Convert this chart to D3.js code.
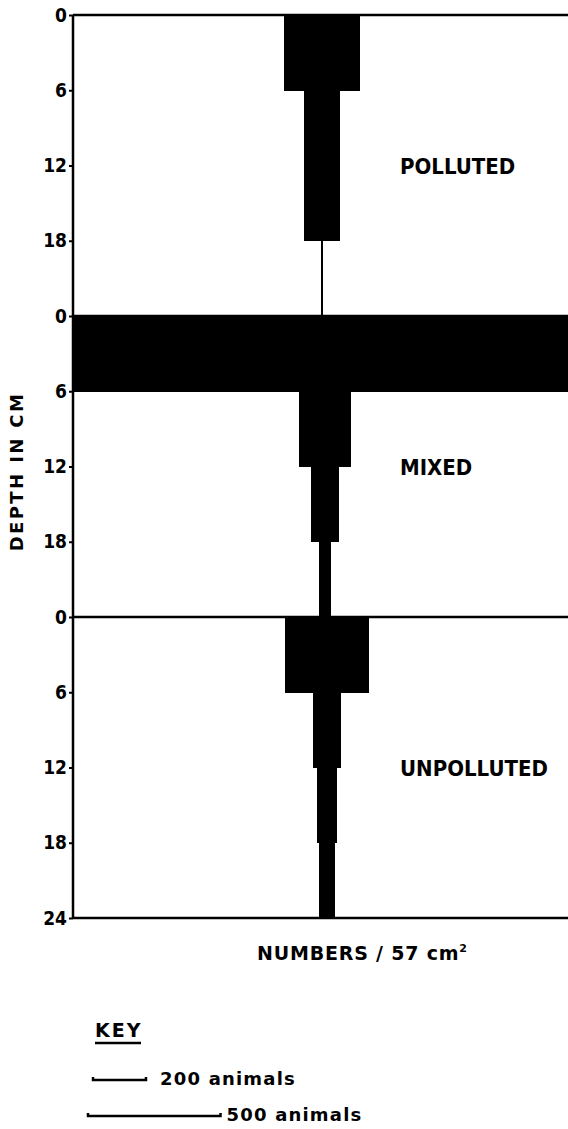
<!DOCTYPE html>
<html lang="en">
<head>
  <meta charset="UTF-8">
  <title>Numbers by depth</title>
  <script src="https://d3js.org/d3.v7.min.js"></script>
  <style>
    body { margin: 0; background: #fff; }
    svg { display: block; }
    text { font-family: "DejaVu Sans", sans-serif; font-weight: bold; fill: #000; }
    .cond { font-family: "DejaVu Sans Condensed", "DejaVu Sans", sans-serif; font-stretch: condensed; }
  </style>
</head>
<body>
  <div id="chart"></div>

  <script>
    // depth bands (cm) inside each core
    const bandStart = [0, 6, 12, 18];
    const bandSize = 6;
    const panels = ["POLLUTED", "MIXED", "UNPOLLUTED"];
    // numbers / 57 cm2 per depth band
    const polluted = [290, 135, 138, 5];
    const mixed = [2000, 196, 106, 42];
    const unpolluted = [317, 102, 79, 64];
    const tickLabels = ["0", "6", "12", "18", "0", "6", "12", "18", "0", "6", "12", "18", "24"];
    const keyValues = [200, 500];
    const keyLabels = ["200 animals", "500 animals"];

    const series = [polluted, mixed, unpolluted];
    const centers = [322, 325, 327];

    const W = 568, H = 1129;
    const mLeft = 73, mRight = 568, mTop = 15, mBottom = 918;

    const svg = d3.select("#chart").append("svg")
      .attr("width", W)
      .attr("height", H);

    const y = d3.scaleLinear().domain([0, 72]).range([mTop, mBottom]);
    // width scale: animals -> pixels
    const w = d3.scaleLinear().domain([0, 1000]).range([0, 265]);

    svg.append("clipPath").attr("id", "plot")
      .append("rect")
      .attr("x", mLeft).attr("y", 0)
      .attr("width", mRight - mLeft).attr("height", H);

    const plot = svg.append("g").attr("clip-path", "url(#plot)");

    // panel boundary lines
    plot.selectAll("line.sep")
      .data([0, 24, 48, 72])
      .join("line")
      .attr("x1", mLeft).attr("x2", mRight)
      .attr("y1", d => y(d)).attr("y2", d => y(d))
      .attr("stroke", "#000")
      .attr("stroke-width", 2.5);

    series.forEach((vals, i) => {
      const cx = centers[i];
      plot.selectAll("rect.p" + i)
        .data(vals)
        .join("rect")
        .attr("class", "p" + i)
        .attr("x", d => cx - Math.max(w(d), 1.5) / 2)
        .attr("width", d => Math.max(w(d), 1.5))
        .attr("y", (d, j) => y(i * 24 + bandStart[j]))
        .attr("height", (d, j) => y(i * 24 + bandStart[j] + bandSize) - y(i * 24 + bandStart[j]) + 0.5)
        .attr("shape-rendering", "crispEdges")
        .attr("fill", "#000");
    });

    // depth axis
    const axis = d3.axisLeft(y)
      .tickValues(d3.range(0, 73, 6))
      .tickFormat((d, i) => tickLabels[i])
      .tickSize(4)
      .tickPadding(2);

    const ax = svg.append("g")
      .attr("transform", `translate(${mLeft},0)`)
      .call(axis);
    ax.select(".domain").attr("stroke-width", 2.5).attr("d", `M0,${mTop}V${mBottom}`);
    ax.selectAll(".tick line").attr("stroke-width", 2);
    ax.selectAll(".tick text")
      .attr("class", "cond")
      .attr("font-size", 19)
      .attr("font-family", null)
      .attr("font-weight", "bold")
      .attr("fill", "#000");

    // panel labels
    svg.selectAll("text.panel")
      .data(panels)
      .join("text")
      .attr("class", "panel cond")
      .attr("x", 400)
      .attr("y", (d, i) => y(i * 24 + 12) + 8)
      .attr("font-size", 22)
      .text(d => d);

    svg.append("text")
      .attr("transform", `translate(23,${y(36) + 5}) rotate(-90)`)
      .attr("text-anchor", "middle")
      .attr("font-size", 18)
      .attr("letter-spacing", 2.4)
      .text("DEPTH IN CM");

    const xl = svg.append("text")
      .attr("x", 257)
      .attr("y", 960)
      .attr("font-size", 19)
      .attr("letter-spacing", 0.8);
    xl.append("tspan").text("NUMBERS / 57 cm");
    xl.append("tspan").attr("font-size", 11).attr("dy", -8).text("2");

    // key
    svg.append("text")
      .attr("x", 95)
      .attr("y", 1037)
      .attr("font-size", 19)
      .attr("letter-spacing", 2)
      .text("KEY");
    svg.append("line")
      .attr("x1", 95).attr("x2", 141)
      .attr("y1", 1043).attr("y2", 1043)
      .attr("stroke", "#000").attr("stroke-width", 2.5);

    const keyX = [93, 88];
    const keyY = [1079, 1115];
    keyValues.forEach((v, i) => {
      const x0 = keyX[i], x1 = keyX[i] + w(v);
      svg.append("path")
        .attr("d", `M${x0},${keyY[i] - 2}V${keyY[i] + 1}H${x1}V${keyY[i] - 2}`)
        .attr("fill", "none")
        .attr("stroke", "#000")
        .attr("stroke-width", 2.5);
      svg.append("text")
        .attr("x", x1 + (i === 0 ? 14 : 6))
        .attr("y", keyY[i] + 6)
        .attr("font-size", 18)
        .attr("letter-spacing", 1.2)
        .text(keyLabels[i]);
    });
  </script>
</body>
</html>
